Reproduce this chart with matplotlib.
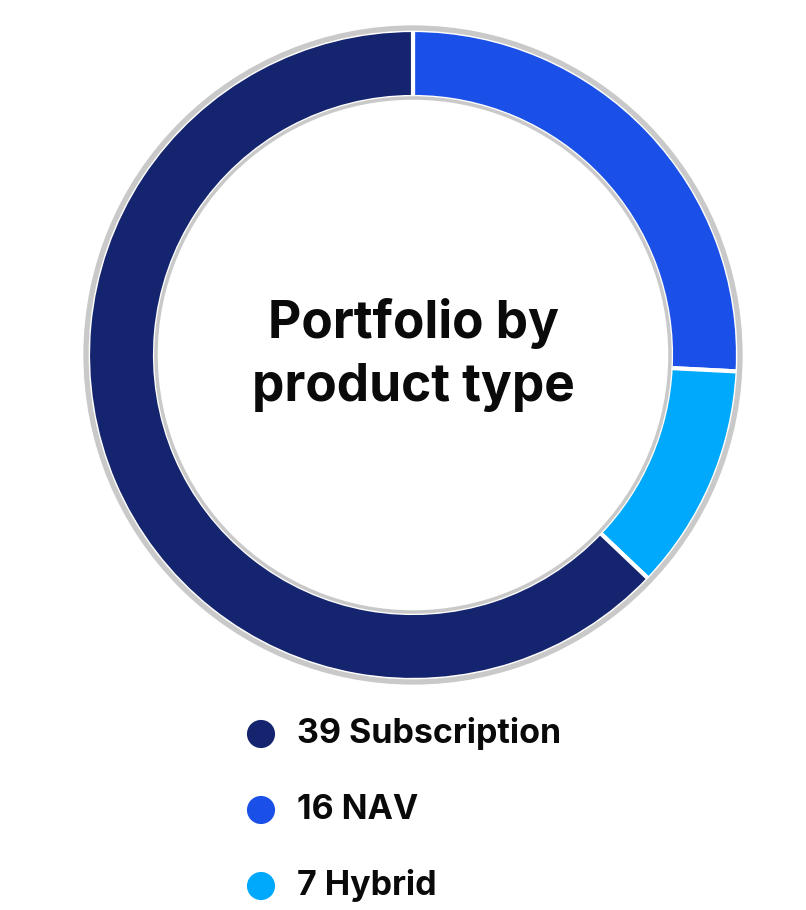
import numpy as np
import matplotlib.pyplot as plt
from matplotlib.patches import Circle

# data
labels = ['Subscription', 'NAV', 'Hybrid']
counts = [39, 16, 7]
colors = ['#14246e', '#1a50e8', '#00a9fb']
title = 'Portfolio by\nproduct type'

# ring drawn clockwise from 12 o'clock: NAV, Hybrid, Subscription
order = [1, 2, 0]

fig = plt.figure(figsize=(8.06, 9.10), dpi=100)
ax = fig.add_axes([0, 0, 1, 1])
ax.set_xlim(0, 806)
ax.set_ylim(910, 0)
ax.set_aspect('equal')
ax.axis('off')

cx, cy = 413, 355
r_out, r_in = 325, 258

ax.pie([counts[i] for i in order], colors=[colors[i] for i in order],
       startangle=-90, counterclock=True, center=(cx, cy), radius=r_out,
       wedgeprops=dict(width=r_out - r_in, edgecolor='white', linewidth=3))
ax.set_xlim(0, 806)
ax.set_ylim(910, 0)

# grey rims
ax.add_patch(Circle((cx, cy), r_out + 2, fill=False, ec='#c9c9c9', lw=3.8, zorder=5))
ax.add_patch(Circle((cx, cy), r_in - 1, fill=False, ec='#c9c9c9', lw=2.5, zorder=5))

ax.text(cx, cy, title, ha='center', va='center', fontsize=37, fontweight='bold',
        family='Inter', linespacing=1.38, color='#0a0a0a')

# legend
ys = [734, 810, 886]
for i, lab in enumerate(labels):
    ax.scatter(261, ys[i], s=410, color=colors[i], edgecolors='none')
    ax.text(297, ys[i], f'{counts[i]} {lab}', ha='left', va='center', fontsize=24.5,
            fontweight='bold', family='Inter', color='#0a0a0a')

fig.savefig('out.png', dpi=100)
